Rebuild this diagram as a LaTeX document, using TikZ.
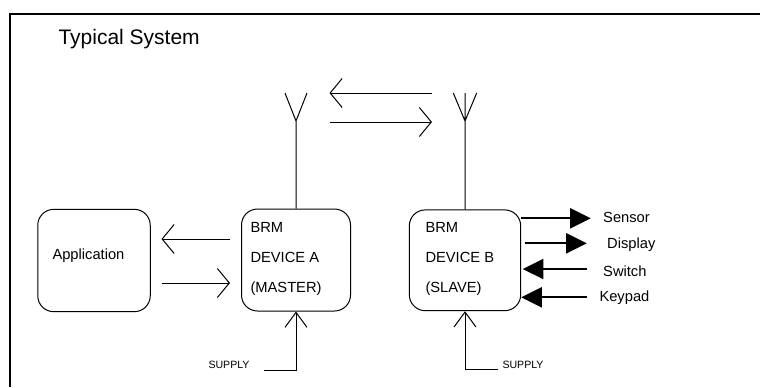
\documentclass[tikz,border=0pt]{standalone}
\usepackage{fontspec}
\setmainfont{Liberation Sans}
\usetikzlibrary{arrows.meta}

\tikzset{
	brm box/.style = {draw, rounded corners = 8pt},
	txt/.style = {anchor = base west, inner sep = 0pt},
	thin arrow/.style = {-{Straight Barb[length = 6pt, width = 14.5pt]}},
	supply arrow/.style = {-{Straight Barb[length = 7.5pt, width = 11pt]}},
	fat arrow/.style = {-{Triangle[length = 10.3pt, width = 10pt]}, line width = 1pt}
}

\begin{document}
\begin{tikzpicture}[x = 0.5pt, y = -0.5pt, line width = 0.5pt, font = \fontsize{7.35}{15}\selectfont]

	\useasboundingbox (0, 0) rectangle (760, 387);

	% Frame and heading

	\draw [line width = 0.8pt] (760, 14) -- (10, 14) -- (10, 387);
	\node (heading) [txt, font = \fontsize{10.5}{12}\selectfont] at (58, 44) {Typical System};

	% Boxes

	\node (app) [brm box, minimum width = 56.25pt, minimum height = 51.2pt] at (94, 260.5) {};
	\node (devA) [brm box, minimum width = 54.5pt, minimum height = 51pt] at (296, 260) {};
	\node (devB) [brm box, minimum width = 55.7pt, minimum height = 50.4pt] at (465, 260.3) {};

	\node (appText) [txt] at (52, 259) {Application};
	\node (devAText) [txt, align = left] at (250, 292) {BRM\\DEVICE A\\(MASTER)};
	\node (devBText) [txt, align = left] at (425, 292) {BRM\\DEVICE B\\(SLAVE)};

	% Antennas

	\coordinate (antA) at (296, 121);
	\coordinate (antB) at (465, 121);

	\draw (devA.north) -- (antA) -- ++(-11, -28) (antA) -- ++(11, -28);
	\draw (devB.north) -- (antB |- 0, 93) (antB) -- ++(-11.7, -28) (antB) -- ++(11.7, -28);

	% Radio link

	\coordinate (linkTopR) at (432, 93);
	\coordinate (linkTopL) at (329.5, 93);
	\coordinate (linkBotL) at (330, 122);
	\coordinate (linkBotR) at (432, 122);

	\begin{scope}[thin arrow]

		\draw (linkTopR) -- (linkTopL);
		\draw (linkBotL) -- (linkBotR);

		% Application link

		\draw (229.5, 239) -- (161.5, 239);
		\draw (161.5, 283) -- (230, 283);

	\end{scope}

	% Supplies

	\node (supplyA) [txt, font = \fontsize{5.3}{6}\selectfont] at (208, 368) {SUPPLY};
	\node (supplyB) [txt, font = \fontsize{5.3}{6}\selectfont] at (502, 368) {SUPPLY};

	\coordinate (supA) at (263.5, 370);
	\coordinate (supB) at (497.5, 369.5);

	\draw [supply arrow] (supA) -- (devA.south |- supA) -- (devA.south);
	\draw [supply arrow] (supB) -- (devB.south |- supB) -- (devB.south);

	% Inputs and outputs of device B

	\node (sensor) [txt] at (602.7, 222) {Sensor};
	\node (display) [txt] at (606.7, 248) {Display};
	\node (switch) [txt] at (602.7, 276) {Switch};
	\node (keypad) [txt] at (599, 301.3) {Keypad};

	\begin{scope}[fat arrow]

		\draw (devB.east |- 0, 218.3) -- (590.7, 218.3);
		\draw (525, 243.3) -- (586.7, 243.3);
		\draw (587.3, 269) -- (522.7, 269);
		\draw (587.3, 297.3) -- (devB.east |- 0, 297.3);

	\end{scope}

\end{tikzpicture}
\end{document}
